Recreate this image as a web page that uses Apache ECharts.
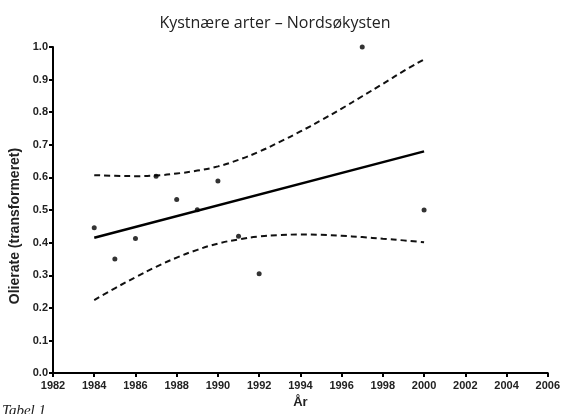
<!DOCTYPE html>
<html>
<head>
<meta charset="utf-8">
<script src="https://cdn.jsdelivr.net/npm/echarts@6/dist/echarts.min.js"></script>
<style>
  html, body { margin: 0; padding: 0; background: #fff; }
  #chart { width: 563px; height: 414px; }
</style>
</head>
<body>
<div id="chart"></div>
<script>
// Observed yearly values
const years = [1984, 1985, 1986, 1987, 1988, 1989, 1990, 1991, 1992, 1997, 2000];
const values = [0.446, 0.350, 0.413, 0.604, 0.532, 0.501, 0.589, 0.420, 0.305, 1.000, 0.500];

// Linear fit, drawn between its end points
const fitYears = [1984, 2000];
const fitValues = [0.415, 0.680];

// 95% confidence band around the fit, sampled each year
const bandYears = [1984, 1985, 1986, 1987, 1988, 1989, 1990, 1991, 1992, 1993, 1994, 1995, 1996, 1997, 1998, 1999, 2000];
const bandUpper = [0.607, 0.605, 0.604, 0.606, 0.612, 0.621, 0.634, 0.654, 0.679, 0.709, 0.741, 0.775, 0.811, 0.849, 0.887, 0.926, 0.962];
const bandLower = [0.224, 0.260, 0.294, 0.326, 0.354, 0.378, 0.397, 0.410, 0.419, 0.423, 0.425, 0.424, 0.421, 0.417, 0.412, 0.407, 0.401];

const xTicks = { min: 1982, max: 2006, step: 2 };
const yTicks = { min: 0, max: 1, step: 0.1 };

const pairs = (xs, ys) => xs.map((x, i) => [x, ys[i]]);

const chart = echarts.init(document.getElementById('chart'), null, { renderer: 'canvas' });

const axisFont = { fontFamily: 'Liberation Sans, Arial, sans-serif', fontWeight: 'bold', fontSize: 11, color: '#222' };

chart.setOption({
  animation: false,
  backgroundColor: '#fff',
  grid: { left: 53, right: 11, top: 47, bottom: 37 },
  xAxis: {
    type: 'value',
    min: xTicks.min, max: xTicks.max, interval: xTicks.step,
    axisLine: { lineStyle: { color: '#000', width: 2 } },
    axisTick: { show: true, length: 4, lineStyle: { color: '#000', width: 2 } },
    axisLabel: Object.assign({ margin: 7, formatter: v => String(v) }, axisFont),
    splitLine: { show: false },
    name: 'År',
    nameLocation: 'middle',
    nameGap: 21,
    nameTextStyle: { fontFamily: 'Liberation Sans, Arial, sans-serif', fontWeight: 'bold', fontSize: 13, color: '#222' }
  },
  yAxis: {
    type: 'value',
    min: yTicks.min, max: yTicks.max, interval: yTicks.step,
    axisLine: { show: true, lineStyle: { color: '#000', width: 2 } },
    axisTick: { show: true, length: 4, lineStyle: { color: '#000', width: 2 } },
    axisLabel: Object.assign({ margin: 5, formatter: v => v.toFixed(1) }, axisFont),
    splitLine: { show: false }
  },
  graphic: [
    {
      type: 'text', x: 275, y: 23,
      style: {
        text: 'Kystnære arter – Nordsøkysten',
        font: '500 16px "Open Sans", "Noto Sans", sans-serif',
        fill: '#222', align: 'center', verticalAlign: 'middle'
      }
    },
    {
      type: 'text', x: 15, y: 226, rotation: Math.PI / 2,
      style: {
        text: 'Olierate (transformeret)',
        font: 'bold 14px "Liberation Sans", Arial, sans-serif',
        fill: '#222', align: 'center', verticalAlign: 'middle'
      }
    },
    {
      type: 'text', x: 2, y: 404,
      style: {
        text: 'Tabel 1',
        font: 'italic 15px "Liberation Serif", "DejaVu Serif", serif',
        fill: '#222'
      }
    }
  ],
  series: [
    {
      name: 'upper', type: 'line', data: pairs(bandYears, bandUpper),
      smooth: true, showSymbol: false, symbol: 'none',
      lineStyle: { color: '#111', width: 2, type: [6, 4] }, z: 2
    },
    {
      name: 'lower', type: 'line', data: pairs(bandYears, bandLower),
      smooth: true, showSymbol: false, symbol: 'none',
      lineStyle: { color: '#111', width: 2, type: [6, 4] }, z: 2
    },
    {
      name: 'fit', type: 'line', data: pairs(fitYears, fitValues),
      showSymbol: false, symbol: 'none',
      lineStyle: { color: '#000', width: 2.5 }, z: 3
    },
    {
      name: 'obs', type: 'scatter', data: pairs(years, values),
      symbol: 'circle', symbolSize: 5,
      itemStyle: { color: '#000' }, z: 4
    }
  ]
});
</script>
</body>
</html>
